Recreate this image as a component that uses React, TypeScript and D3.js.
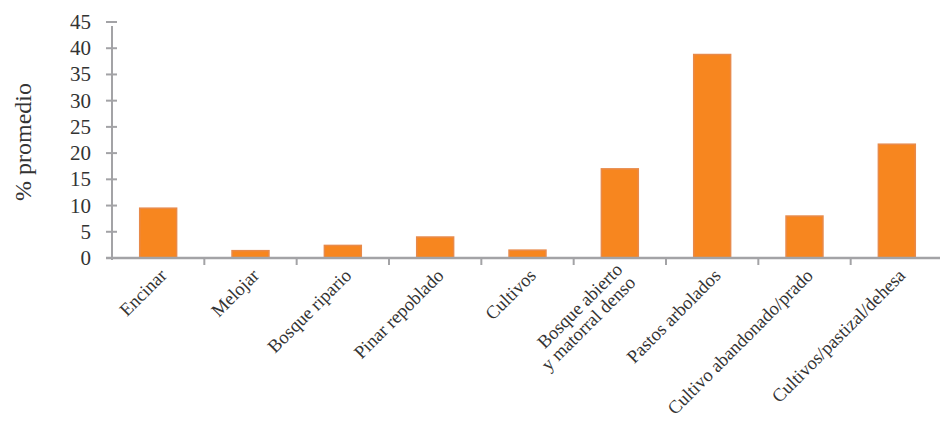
import React from "react";
import * as d3 from "d3";

const categories: string[][] = [
  ["Encinar"],
  ["Melojar"],
  ["Bosque ripario"],
  ["Pinar repoblado"],
  ["Cultivos"],
  ["Bosque abierto", "y matorral denso"],
  ["Pastos arbolados"],
  ["Cultivo abandonado/prado"],
  ["Cultivos/pastizal/dehesa"],
];
const values: number[] = [9.5, 1.4, 2.4, 4.0, 1.5, 17.0, 38.8, 8.0, 21.7];
const yTicks: number[] = [0, 5, 10, 15, 20, 25, 30, 35, 40, 45];

const W = 940;
const H = 426;
const x0 = 112;
const x1 = 943;
const yBase = 258;
const yTop = 22;

export default function App() {
  const idx = categories.map((_, i) => String(i));
  const x = d3.scaleBand<string>().domain(idx).range([x0, x1]).paddingInner(0.6).paddingOuter(0.3);
  const y = d3.scaleLinear().domain([0, 45]).range([yBase, yTop]);
  const step = x.step();
  const bw = x.bandwidth();
  const boundaries = d3.range(1, categories.length).map((i) => x(String(i))! - (step - bw) / 2);
  const axisColor = "#a3a3a6";
  const font = "'Liberation Serif', 'DejaVu Serif', serif";
  return (
    <svg width={W} height={H} style={{ position: "absolute", left: 0, top: 0, background: "#fff" }}>
      {/* bars */}
      {values.map((v, i) => (
        <rect
          key={i}
          x={x(String(i))!}
          y={y(v)}
          width={bw}
          height={yBase - y(v)}
          fill="#f7861f"
          stroke="#e88a4a"
          strokeWidth={1.5}
        />
      ))}
      {/* y axis */}
      <line x1={x0} x2={x0} y1={yBase + 2} y2={yTop + 4} stroke={axisColor} strokeWidth={2} />
      {yTicks.map((t) => (
        <g key={t}>
          <line x1={x0 - 6} x2={x0 + 5} y1={y(t)} y2={y(t)} stroke={axisColor} strokeWidth={2} />
          <text
            x={x0 - 21}
            y={y(t)}
            textAnchor="end"
            dominantBaseline="central"
            fontFamily={font}
            fontSize={21}
            fill="#333"
          >
            {t}
          </text>
        </g>
      ))}
      {/* x axis */}
      <line x1={x0 - 6} x2={W} y1={yBase} y2={yBase} stroke={axisColor} strokeWidth={2.5} />
      {boundaries.map((b, i) => (
        <line key={i} x1={b} x2={b} y1={yBase} y2={yBase + 7} stroke={axisColor} strokeWidth={2} />
      ))}
      {/* x labels */}
      {categories.map((lines, i) => {
        const cx = x(String(i))! + bw / 2 + 5;
        const cy = yBase + 14;
        return (
          <text
            key={i}
            transform={`translate(${cx},${cy}) rotate(-45)`}
            textAnchor="end"
            fontFamily={font}
            fontSize={18.5}
            fill="#333"
          >
            {lines.map((l, j) => (
              <tspan key={j} x={0} dy={j === 0 ? (lines.length > 1 ? "-0.1em" : "0.35em") : "1.0em"}>
                {l}
              </tspan>
            ))}
          </text>
        );
      })}
      {/* y axis title */}
      <text
        transform={`translate(31,142) rotate(-90)`}
        textAnchor="middle"
        fontFamily={font}
        fontSize={24}
        fill="#333"
      >
        % promedio
      </text>
    </svg>
  );
}
